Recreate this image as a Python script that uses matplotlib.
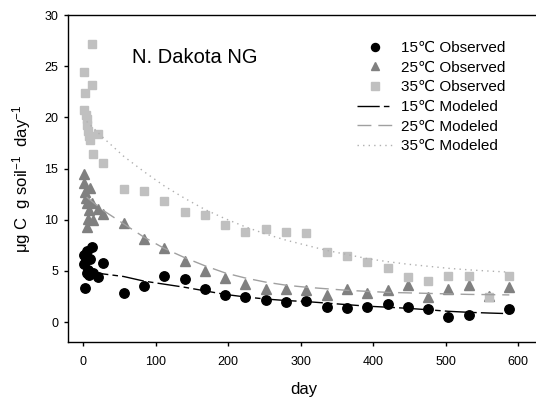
import matplotlib
matplotlib.use("Agg")
import matplotlib.pyplot as plt
from matplotlib.transforms import IdentityTransform

plt.rcParams['font.family'] = ['Liberation Sans', 'DejaVu Sans']
plt.rcParams['mathtext.fontset'] = 'custom'
plt.rcParams['mathtext.rm'] = 'Liberation Sans'
plt.rcParams['mathtext.it'] = 'Liberation Sans:italic'

# ---- data ----
days15 = [1, 2, 3, 4, 5, 6, 7, 8, 10, 13, 14, 20, 28, 56, 84, 112, 140, 168, 196, 224,
          252, 280, 308, 336, 364, 392, 420, 448, 476, 504, 532, 588]
obs15 = [5.7, 6.55, 3.3, 6.06, 6.9, 4.75, 5.1, 4.6, 6.2, 7.36, 4.75, 4.4, 5.8, 2.85, 3.55,
         4.5, 4.24, 3.2, 2.64, 2.47, 2.15, 1.96, 2.02, 1.43, 1.4, 1.5, 1.73, 1.5, 1.3, 0.52,
         0.65, 1.24]

days25 = [1, 2, 3, 4, 5, 6, 7, 8, 10, 12, 14, 20, 28, 56, 84, 112, 140, 168, 196, 224,
          252, 280, 308, 336, 364, 392, 420, 448, 476, 504, 532, 560, 588]
obs25 = [14.5, 13.6, 12.7, 12.1, 11.6, 9.3, 10.1, 10.9, 13.1, 11.6, 10.0, 11.0, 10.6, 9.7,
         8.1, 7.2, 5.96, 5.0, 4.33, 3.68, 3.2, 3.2, 3.1, 2.65, 3.2, 2.8, 3.1, 3.6, 2.4, 3.2,
         3.6, 2.5, 3.4]

days35 = [1, 2, 3, 4, 5, 6, 7, 8, 10, 12, 13, 14, 20, 28, 56, 84, 112, 140, 168, 196, 224,
          252, 280, 308, 336, 364, 392, 420, 448, 476, 504, 532, 560, 588]
obs35 = [24.4, 20.7, 22.4, 20.2, 19.8, 19.3, 18.7, 18.2, 17.8, 27.2, 23.2, 16.4, 18.4, 15.5,
         13.0, 12.8, 11.8, 10.75, 10.5, 9.5, 8.8, 9.05, 8.8, 8.7, 6.8, 6.5, 5.9, 5.25, 4.4,
         4.0, 4.5, 4.5, 2.4, 4.45]

model_days = [5, 28, 56, 84, 112, 140, 168, 196, 224, 252, 280, 308, 336, 364, 392, 420,
              448, 476, 504, 532, 560, 588]
mod15 = [5.1, 4.7, 4.45, 4.0, 3.7, 3.4, 3.05, 2.7, 2.45, 2.25, 2.1, 2.0, 1.85, 1.7, 1.55,
         1.45, 1.34, 1.2, 1.05, 0.95, 0.88, 0.82]
mod25 = [12.2, 10.9, 9.6, 8.3, 7.2, 6.3, 5.5, 4.8, 4.3, 3.9, 3.6, 3.4, 3.25, 3.1, 3.0, 2.9,
         2.85, 2.8, 2.75, 2.7, 2.68, 2.65]
mod35 = [19.6, 18.0, 16.2, 14.7, 13.3, 12.1, 11.0, 10.1, 9.3, 8.6, 8.0, 7.5, 7.0, 6.6, 6.2,
         5.9, 5.65, 5.45, 5.25, 5.1, 4.98, 4.88]

xticks = [0, 100, 200, 300, 400, 500, 600]
yticks = [0, 5, 10, 15, 20, 25, 30]

# ---- figure ----
fig = plt.figure(figsize=(5.36, 4.01), dpi=100)
ax = fig.add_axes([68 / 536, 1 - 342 / 401, 472 / 536, 327 / 401])

ax.plot(days15, obs15, 'o', color='black', markersize=6.8, linestyle='none',
        label='15\u2103 Observed', zorder=3)
ax.plot(days25, obs25, '^', color='#808080', markersize=7.0, linestyle='none',
        label='25\u2103 Observed', zorder=3)
ax.plot(days35, obs35, 's', color='#c0c0c0', markersize=6.0, linestyle='none',
        label='35\u2103 Observed', zorder=3)

ax.plot(model_days, mod15, color='black', lw=1.0, dashes=(16, 3, 4, 3),
        label='15\u2103 Modeled', zorder=4)
ax.plot(model_days, mod25, color='#a0a0a0', lw=1.0, dashes=(10, 5),
        label='25\u2103 Modeled', zorder=4)
ax.plot(model_days, mod35, color='#b0b0b0', lw=1.0, dashes=(1, 3),
        label='35\u2103 Modeled', zorder=4)

ax.set_xlim(-20.7, 630.3)
ax.set_ylim(-1.95, 30)
ax.set_xticks(xticks)
ax.set_yticks(yticks)
ax.tick_params(axis='x', direction='out', length=3, width=1, labelsize=9, pad=7,
               top=False)
ax.tick_params(axis='y', direction='out', length=3, width=1, labelsize=9, pad=4,
               right=False)
ax.spines['right'].set_visible(False)
for s in ['left', 'bottom', 'top']:
    ax.spines[s].set_linewidth(1.0)

ax.set_xlabel('day', fontsize=12, labelpad=10)
ax.set_ylabel('\u03bcg C  g soil$^{-1}$  day$^{-1}$', fontsize=12, labelpad=8)

t = ax.text(0, 0, 'N. Dakota NG', fontsize=14.5, va='baseline', ha='left')
t.set_transform(IdentityTransform())
t.set_position((132, 401 - 63))

leg = ax.legend(loc='upper left', bbox_to_anchor=(357 / 536, 1 - 41 / 401),
                bbox_transform=fig.transFigure, frameon=False, fontsize=11,
                handlelength=2.3, handletextpad=0.6, labelspacing=0.37,
                markerscale=0.85, borderpad=0, borderaxespad=0)

fig.savefig('out.png', dpi=100)
